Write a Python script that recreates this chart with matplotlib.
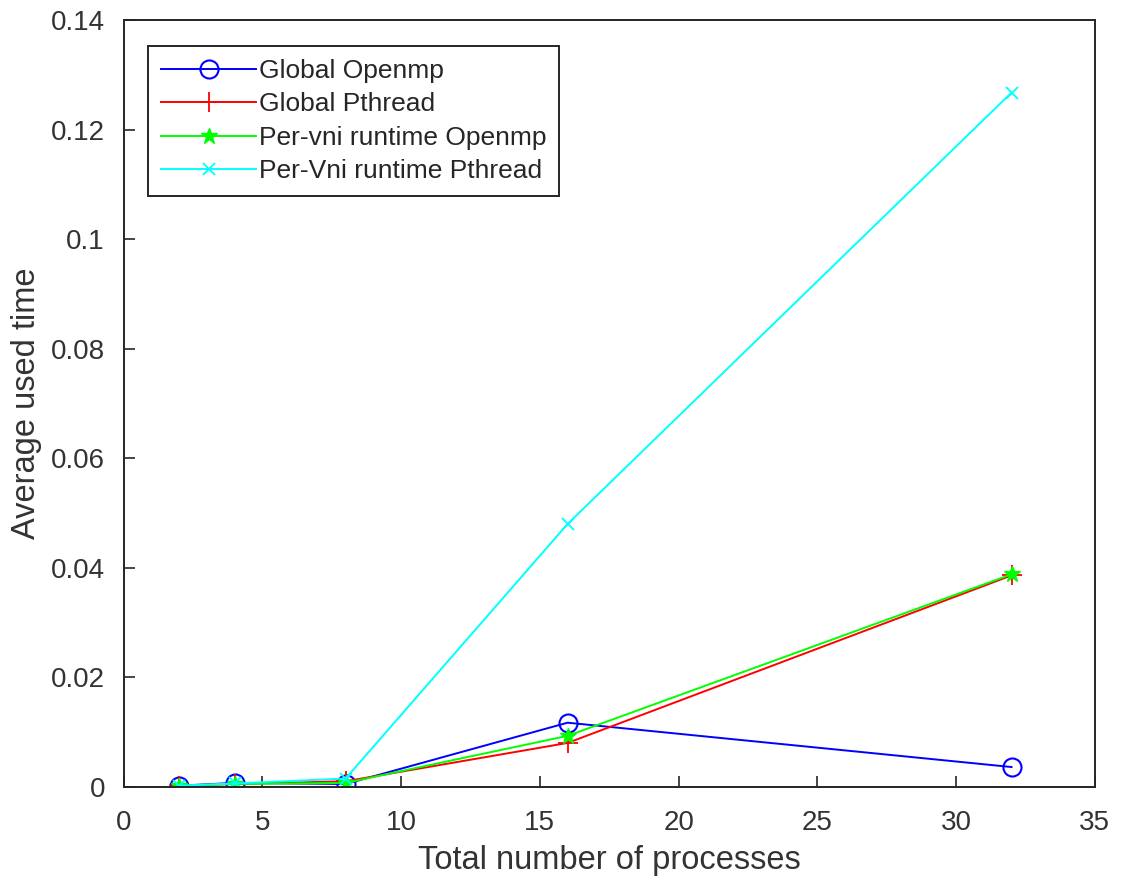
import matplotlib
matplotlib.use("Agg")
import matplotlib.pyplot as plt

plt.rcParams['font.family'] = ['Liberation Sans', 'DejaVu Sans']

processes = [2, 4, 8, 16, 32]
global_openmp = [0.0002, 0.0007, 0.0005, 0.0117, 0.0036]
global_pthread = [0.0002, 0.0005, 0.0010, 0.0080, 0.0386]
pervni_openmp = [0.0002, 0.0005, 0.0007, 0.0093, 0.0388]
pervni_pthread = [0.0002, 0.0006, 0.0015, 0.0480, 0.1268]

labels = ["Global Openmp", "Global Pthread", "Per-vni runtime Openmp", "Per-Vni runtime Pthread"]
xticks = [0, 5, 10, 15, 20, 25, 30, 35]
yticks = [0, 0.02, 0.04, 0.06, 0.08, 0.1, 0.12, 0.14]
ytick_labels = ["0", "0.02", "0.04", "0.06", "0.08", "0.1", "0.12", "0.14"]

fig = plt.figure(figsize=(11.24, 8.82), dpi=100)
ax = fig.add_axes([0.110, 0.108, 0.864, 0.869])

ax.plot(processes, global_openmp, color='#0000ff', marker='o', markersize=13,
        markerfacecolor='none', markeredgewidth=1.5, linewidth=1.4, label=labels[0])
ax.plot(processes, global_pthread, color='#ff0000', marker='+', markersize=15,
        markeredgewidth=1.3, linewidth=1.4, label=labels[1])
ax.plot(processes, pervni_openmp, color='#00ff00', marker='*', markersize=12,
        markeredgewidth=1.0, linewidth=1.4, label=labels[2])
ax.plot(processes, pervni_pthread, color='#00ffff', marker='x', markersize=9,
        markeredgewidth=1.3, linewidth=1.4, label=labels[3])

ax.set_xlim(0, 35)
ax.set_ylim(0, 0.14)
ax.set_xticks(xticks)
ax.set_xticklabels([str(v) for v in xticks])
ax.set_yticks(yticks)
ax.set_yticklabels(ytick_labels)
ax.tick_params(direction='in', length=8, width=1.2, labelsize=20, colors='#262626',
               labelcolor='#333333', top=False, right=False)
ax.tick_params(axis='x', pad=17)
ax.tick_params(axis='y', pad=13.5)
for s in ax.spines.values():
    s.set_color('#262626')
    s.set_linewidth(1.4)

ax.set_xlabel("Total number of processes", fontsize=23.5, color='#333333', labelpad=6)
ax.set_ylabel("Average used time", fontsize=23.5, color='#333333', labelpad=6)

leg = ax.legend(loc='upper left', bbox_to_anchor=(0.025, 0.967), fontsize=19,
                frameon=True, fancybox=False, edgecolor='#262626', framealpha=1,
                handlelength=3.6, handletextpad=0.1, borderpad=0.5, labelspacing=0.36,
                borderaxespad=0)
leg.get_frame().set_linewidth(1.4)
for t in leg.get_texts():
    t.set_color('#262626')

fig.savefig("out.png", dpi=100)
